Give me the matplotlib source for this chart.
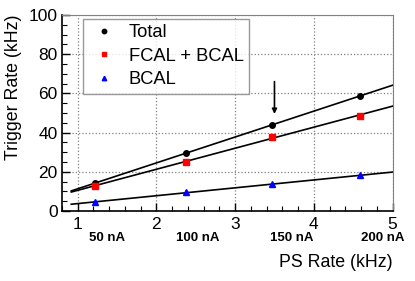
import numpy as np
import matplotlib.pyplot as plt
from matplotlib.ticker import MultipleLocator

plt.rcParams['font.family'] = ['Liberation Sans', 'DejaVu Sans']

# PS rate (kHz) and trigger rates (kHz)
ps_rate = [1.22, 2.38, 3.47, 4.58]
total = [14.4, 29.4, 43.7, 58.8]
fcal_bcal = [12.9, 25.0, 37.8, 48.6]
bcal = [4.6, 9.5, 13.6, 18.2]
currents = ['50 nA', '100 nA', '150 nA', '200 nA']
current_x = [1.38, 2.52, 3.72, 4.87]

fig = plt.figure(figsize=(4.15, 2.81), dpi=100)
ax = fig.add_axes([0.149, 0.249, 0.797, 0.698])

# straight-line fits drawn over the points
xfit = np.array([0.92, 5.0])
for y in (total, fcal_bcal, bcal):
    p = np.polyfit(ps_rate, y, 1)
    ax.plot(xfit, np.polyval(p, xfit), color='black', lw=1.2, zorder=2)

ax.plot(ps_rate, total, 'o', color='black', ms=4, label='Total', zorder=3)
ax.plot(ps_rate, fcal_bcal, 's', color='red', ms=4, label='FCAL + BCAL', zorder=3)
ax.plot(ps_rate, bcal, '^', color='blue', ms=4, label='BCAL', zorder=3)

ax.annotate('', xy=(3.5, 49.5), xytext=(3.5, 66),
            arrowprops=dict(arrowstyle='-|>', color='black', lw=1.2,
                            mutation_scale=7, shrinkA=0, shrinkB=0))

ax.set_xlim(0.8, 5.0)
ax.set_ylim(0, 100)
ax.xaxis.set_major_locator(MultipleLocator(1))
ax.xaxis.set_minor_locator(MultipleLocator(0.2))
ax.yaxis.set_major_locator(MultipleLocator(20))
ax.yaxis.set_minor_locator(MultipleLocator(5))
ax.tick_params(which='both', direction='in', top=False, right=False, labelsize=12.5)
ax.tick_params(which='major', length=6, width=1)
ax.tick_params(which='minor', length=3.5, width=0.8)
ax.tick_params(axis='x', pad=4)
ax.tick_params(axis='y', pad=3)
ax.grid(True, which='major', ls=':', color='gray', lw=0.9)

for s in ('left', 'bottom'):
    ax.spines[s].set_linewidth(1.2)
for s in ('top', 'right'):
    ax.spines[s].set_color('gray')
    ax.spines[s].set_linewidth(0.8)

for cx, lab in zip(current_x, currents):
    ax.text(cx, -0.138, lab, transform=ax.get_xaxis_transform(), ha='center',
            va='center', fontsize=9.5, fontweight='bold')

ax.set_ylabel('Trigger Rate (kHz)', fontsize=12.8, loc='top', labelpad=5)
ax.set_xlabel('PS Rate (kHz)', fontsize=12.8, loc='right', labelpad=16)

leg = ax.legend(loc='upper left', bbox_to_anchor=(0.064, 0.98), borderaxespad=0,
                fontsize=13.2, frameon=True, fancybox=False, edgecolor='gray',
                handlelength=1.7, handletextpad=0.5, borderpad=0.3,
                labelspacing=0.35, markerscale=0.8)
leg.get_frame().set_linewidth(1)

fig.savefig('out.png', dpi=100)
